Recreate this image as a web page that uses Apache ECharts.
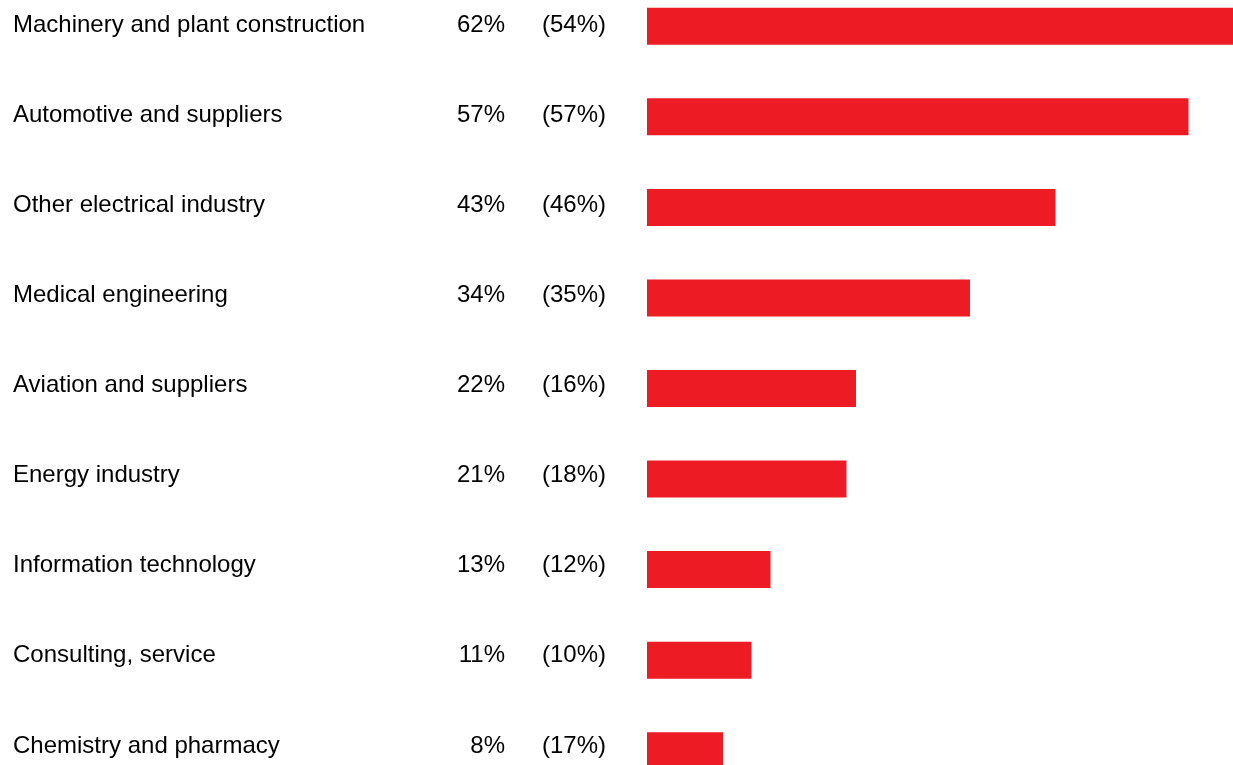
<!DOCTYPE html>
<html>
<head>
<meta charset="utf-8">
<title>Industries</title>
<script src="https://cdn.jsdelivr.net/npm/echarts@6/dist/echarts.min.js"></script>
<style>
  html, body { margin: 0; padding: 0; background: #ffffff; }
  #chart { width: 1233px; height: 765px; }
</style>
</head>
<body>
<div id="chart"></div>
<script>
// Industry shares, current year and (previous year)
const categories = [
  'Machinery and plant construction',
  'Automotive and suppliers',
  'Other electrical industry',
  'Medical engineering',
  'Aviation and suppliers',
  'Energy industry',
  'Information technology',
  'Consulting, service',
  'Chemistry and pharmacy'
];
const shares = [62, 57, 43, 34, 22, 21, 13, 11, 8];
const prevShares = [54, 57, 46, 35, 16, 18, 12, 10, 17];

const FONT = '"Liberation Sans", Arial, sans-serif';
const GRID_LEFT = 647;

// one hidden category axis per text column, all on the text grid
function labelAxis(formatter, align, labelX) {
  return {
    type: 'category',
    gridIndex: 1,
    data: categories,
    inverse: true,
    position: 'left',
    offset: 0,
    axisLine: { show: false },
    axisTick: { show: false },
    splitLine: { show: false },
    axisLabel: {
      align: align,
      margin: GRID_LEFT - labelX,
      formatter: formatter,
      fontFamily: FONT,
      fontSize: 24,
      color: '#000000'
    }
  };
}

const chart = echarts.init(document.getElementById('chart'), null, { renderer: 'canvas' });

chart.setOption({
  animation: false,
  backgroundColor: '#ffffff',
  grid: [
    // bars
    { left: GRID_LEFT, top: -19, width: 589, height: 815, containLabel: false, outerBoundsMode: 'none' },
    // text rows
    { left: GRID_LEFT, top: -20, width: 589, height: 811, containLabel: false, outerBoundsMode: 'none' }
  ],
  xAxis: [
    { type: 'value', gridIndex: 0, min: 0, max: 62, show: false },
    { type: 'value', gridIndex: 1, min: 0, max: 62, show: false }
  ],
  yAxis: [
    {
      type: 'category',
      gridIndex: 0,
      data: categories,
      inverse: true,
      show: false
    },
    labelAxis(function (v) { return v; }, 'left', 13),
    labelAxis(function (v, i) { return shares[i] + '%'; }, 'right', 505),
    labelAxis(function (v, i) { return '(' + prevShares[i] + '%)'; }, 'left', 542)
  ],
  series: [{
    type: 'bar',
    data: shares,
    xAxisIndex: 0,
    yAxisIndex: 0,
    barWidth: 37,
    itemStyle: { color: '#ed1c24' },
    silent: true
  }]
});
</script>
</body>
</html>
